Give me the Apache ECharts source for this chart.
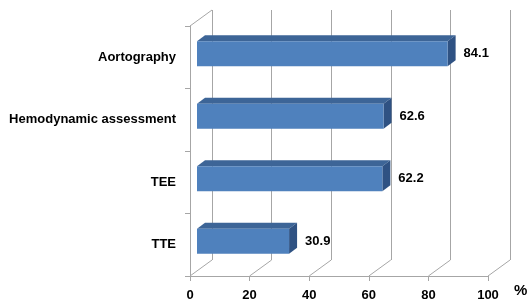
<!DOCTYPE html>
<html>
<head>
<meta charset="utf-8">
<script src="https://cdn.jsdelivr.net/npm/echarts@6/dist/echarts.min.js"></script>
<style>
  html, body { margin: 0; padding: 0; background: #fff; }
  #chart { width: 531px; height: 306px; }
</style>
</head>
<body>
<div id="chart"></div>
<script>
// data, bottom to top
var categories = ['TTE', 'TEE', 'Hemodynamic assessment', 'Aortography'];
var values = [30.9, 62.2, 62.6, 84.1];
var xTicks = [0, 20, 40, 60, 80, 100];

var gridColor = '#a6a6a6';
var fontFam = '"Liberation Sans", Arial, sans-serif';
// depth of the wall (floor diagonals) and of the bars
var depthX = 22, depthY = -16;

var chart = echarts.init(document.getElementById('chart'));

function renderBar(params, api) {
    var v = api.value(0);
    var idx = api.value(1);
    var start = api.coord([0, idx]);
    var end = api.coord([v, idx]);
    var band = api.size([0, 1])[1];
    var h = band * 0.4;
    var fx = 7, fy = -3.5;          // front face shift
    var bx = 8, by = -6;            // bar depth
    var x0 = start[0] + fx, x1 = end[0] + fx;
    var yT = start[1] + fy - h / 2, yB = start[1] + fy + h / 2;
    return {
        type: 'group',
        children: [
            { type: 'polygon', shape: { points: [[x0, yT], [x1, yT], [x1 + bx, yT + by], [x0 + bx, yT + by]] },
              style: { fill: '#3d6597' } },
            { type: 'polygon', shape: { points: [[x1, yT], [x1 + bx, yT + by], [x1 + bx, yB + by], [x1, yB]] },
              style: { fill: '#2f5283' } },
            { type: 'rect', shape: { x: x0, y: yT, width: x1 - x0, height: h },
              style: { fill: '#4f81bd' } },
            { type: 'text', x: x1 + bx + 8, y: yT + h / 2,
              style: { text: v.toFixed(1), fill: '#000', font: 'bold 13px ' + fontFam, verticalAlign: 'middle', align: 'left' } }
        ]
    };
}

function renderFloor(params, api) {
    var v = api.value(0);
    var p = api.coord([v, 0]);
    var cs = params.coordSys;
    var bottom = cs.y + cs.height;
    var lines = [
        { type: 'line', shape: { x1: p[0], y1: bottom, x2: p[0] + depthX, y2: bottom + depthY },
          style: { stroke: gridColor, lineWidth: 1 } }
    ];
    if (v === 0) {
        lines.push({ type: 'line', shape: { x1: p[0], y1: cs.y, x2: p[0] + depthX, y2: cs.y + depthY },
          style: { stroke: gridColor, lineWidth: 1 } });
    }
    return { type: 'group', children: lines };
}

chart.setOption({
    animation: false,
    grid: [
        { left: 190, top: 26, width: 298, height: 250 },
        { left: 212, top: 10, width: 298, height: 250 }
    ],
    xAxis: [
        {
            gridIndex: 0, type: 'value', min: 0, max: 100, interval: 20,
            axisLine: { show: true, lineStyle: { color: gridColor } },
            axisTick: { show: true, length: 5, lineStyle: { color: gridColor } },
            splitLine: { show: false },
            axisLabel: { margin: 13, color: '#000', fontWeight: 'bold', fontSize: 13, fontFamily: fontFam }
        },
        {
            gridIndex: 1, type: 'value', min: 0, max: 100, interval: 20,
            axisLine: { show: false }, axisTick: { show: false }, axisLabel: { show: false },
            splitLine: { show: true, lineStyle: { color: gridColor, width: 1 } }
        }
    ],
    yAxis: [
        {
            gridIndex: 0, type: 'category', data: categories,
            axisLine: { show: true, lineStyle: { color: gridColor } },
            axisTick: { show: true, length: 5, lineStyle: { color: gridColor } },
            axisLabel: { margin: 14, color: '#000', fontWeight: 'bold', fontSize: 13, fontFamily: fontFam,
                         padding: [4, 0, 0, 0] }
        },
        {
            gridIndex: 1, type: 'category', data: categories, show: false
        }
    ],
    graphic: [
        { type: 'text', left: 514, top: 283,
          style: { text: '%', fill: '#000', font: 'bold 15px ' + fontFam } }
    ],
    series: [
        {
            type: 'custom', xAxisIndex: 0, yAxisIndex: 0,
            renderItem: renderFloor,
            data: xTicks.map(function (t) { return [t, 0]; }),
            z: 1, silent: true
        },
        {
            type: 'custom', xAxisIndex: 0, yAxisIndex: 0,
            renderItem: renderBar,
            data: values.map(function (v, i) { return [v, i]; }),
            z: 5
        }
    ]
});
</script>
</body>
</html>
